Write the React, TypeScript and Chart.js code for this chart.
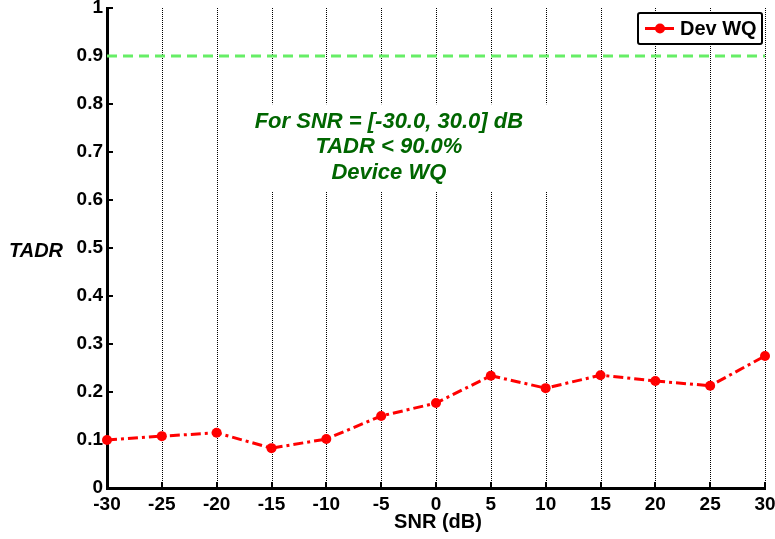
import { useEffect, useRef } from 'react';
import { Chart, registerables } from 'chart.js';

Chart.register(...registerables);

// SNR sweep (dB) and the measured TADR of device WQ at each step
const snrDb = [-30, -25, -20, -15, -10, -5, 0, 5, 10, 15, 20, 25, 30];
const tadrDevWQ = [0.1, 0.108, 0.115, 0.083, 0.102, 0.15, 0.177, 0.234, 0.208, 0.235, 0.223, 0.213, 0.275];

// required detection rate, drawn as a dashed reference line
const thresholdSnr = [-30, 30];
const thresholdTadr = [0.9, 0.9];

const yTickValues = [0, 0.1, 0.2, 0.3, 0.4, 0.5, 0.6, 0.7, 0.8, 0.9, 1];
const seriesLabel = 'Dev WQ';
const xTitle = 'SNR (dB)';
const yTitle = 'TADR';
const noteLines = ['For SNR = [-30.0, 30.0] dB', 'TADR < 90.0%', 'Device WQ'];
const noteAt = { x: -4.3, y: 0.71 };

const FONT = "'Liberation Sans', Arial, Helvetica, sans-serif";
const RED = '#ff0000';
const GREEN_LINE = '#66ee66';
const NOTE_GREEN = '#006600';

const decor = {
  id: 'decor',
  beforeDatasetsDraw(chart: any) {
    const { ctx, chartArea: a, scales } = chart;
    const x = scales.x;
    const y = scales.y;
    ctx.save();

    // dotted vertical grid at each SNR tick
    ctx.strokeStyle = '#000';
    ctx.lineWidth = 1;
    ctx.setLineDash([1, 1]);
    for (const v of snrDb) {
      if (v === snrDb[0]) continue;
      const px = Math.round(x.getPixelForValue(v)) + 0.5;
      ctx.beginPath();
      ctx.moveTo(px, a.top);
      ctx.lineTo(px, a.bottom);
      ctx.stroke();
    }
    ctx.setLineDash([]);

    // inward tick marks
    ctx.lineWidth = 2;
    for (const v of yTickValues) {
      const py = Math.round(y.getPixelForValue(v));
      ctx.beginPath();
      ctx.moveTo(a.left, py);
      ctx.lineTo(a.left + 6, py);
      ctx.stroke();
    }
    for (const v of snrDb) {
      const px = Math.round(x.getPixelForValue(v));
      ctx.beginPath();
      ctx.moveTo(px, a.bottom);
      ctx.lineTo(px, a.bottom - 6);
      ctx.stroke();
    }

    // annotation with opaque background
    const cx = x.getPixelForValue(noteAt.x);
    const cy = y.getPixelForValue(noteAt.y);
    ctx.fillStyle = '#fff';
    ctx.fillRect(cx - 160, cy - 43, 320, 87);
    ctx.fillStyle = NOTE_GREEN;
    ctx.font = `italic bold 22px ${FONT}`;
    ctx.textAlign = 'center';
    ctx.textBaseline = 'middle';
    noteLines.forEach((t, i) => {
      ctx.fillText(t, cx, cy + (i - 1) * 25.5);
    });
    ctx.restore();
  },
  afterDraw(chart: any) {
    const { ctx, chartArea: a, scales } = chart;
    const y = scales.y;
    ctx.save();

    // axis titles
    ctx.fillStyle = '#000';
    ctx.textAlign = 'center';
    ctx.textBaseline = 'middle';
    ctx.font = `bold 20px ${FONT}`;
    ctx.fillText(xTitle, (a.left + a.right) / 2 + 2, a.bottom + 34);
    ctx.font = `italic bold 20px ${FONT}`;
    ctx.fillText(yTitle, a.left - 71, y.getPixelForValue(0.5) + 3);

    // legend box
    const bw = 124;
    const bh = 31;
    const bx = a.right - bw - 3;
    const by = a.top + 5;
    ctx.fillStyle = '#fff';
    ctx.strokeStyle = '#000';
    ctx.lineWidth = 2;
    ctx.beginPath();
    ctx.roundRect(bx, by, bw, bh, 2);
    ctx.fill();
    ctx.stroke();
    const ly = by + bh / 2;
    ctx.strokeStyle = RED;
    ctx.lineWidth = 3;
    ctx.beginPath();
    ctx.moveTo(bx + 7, ly);
    ctx.lineTo(bx + 36, ly);
    ctx.stroke();
    ctx.fillStyle = RED;
    ctx.beginPath();
    ctx.arc(bx + 22, ly, 5, 0, Math.PI * 2);
    ctx.fill();
    ctx.fillStyle = '#000';
    ctx.font = `bold 20px ${FONT}`;
    ctx.textAlign = 'left';
    ctx.fillText(seriesLabel, bx + 42, ly + 1);
    ctx.restore();
  },
};

export default function App() {
  const canvasRef = useRef<HTMLCanvasElement | null>(null);

  useEffect(() => {
    const canvas = canvasRef.current;
    if (!canvas) return;
    const chart = new Chart(canvas, {
      type: 'line',
      data: {
        datasets: [
          {
            label: seriesLabel,
            data: snrDb.map((s, i) => ({ x: s, y: tadrDevWQ[i] })),
            borderColor: RED,
            backgroundColor: RED,
            borderWidth: 3,
            borderDash: [10, 4, 3, 4],
            pointRadius: 5,
            pointBackgroundColor: RED,
            pointBorderColor: RED,
            pointBorderWidth: 0,
            fill: false,
            tension: 0,
            clip: false as any,
          },
          {
            label: 'threshold',
            data: thresholdSnr.map((s, i) => ({ x: s, y: thresholdTadr[i] })),
            borderColor: GREEN_LINE,
            borderWidth: 3,
            borderDash: [10, 6],
            pointRadius: 0,
            fill: false,
            clip: false as any,
          },
        ],
      },
      options: {
        responsive: false,
        animation: false,
        events: [],
        layout: { padding: { top: 8, right: 10, left: 0, bottom: 0 } },
        plugins: {
          legend: { display: false },
          tooltip: { enabled: false },
          title: { display: false },
        },
        scales: {
          x: {
            type: 'linear',
            min: -30,
            max: 30,
            grid: { display: false, drawTicks: false },
            border: { display: true, color: '#000', width: 3 },
            ticks: {
              stepSize: 5,
              autoSkip: false,
              maxRotation: 0,
              padding: 5,
              color: '#000',
              font: { family: FONT, size: 19, weight: 'bold' },
            },
            afterFit: (s: any) => {
              s.height = 51;
              s.paddingLeft = 0;
              s.paddingRight = 0;
            },
          },
          y: {
            type: 'linear',
            min: 0,
            max: 1,
            grid: { display: false, drawTicks: false },
            border: { display: true, color: '#000', width: 3 },
            ticks: {
              stepSize: 0.1,
              autoSkip: false,
              padding: 4,
              color: '#000',
              font: { family: FONT, size: 19, weight: 'bold' },
              callback: (v: any) => String(Number(Number(v).toFixed(1))),
            },
            afterFit: (s: any) => {
              s.width = 107;
              s.paddingTop = 0;
              s.paddingBottom = 0;
            },
          },
        },
      },
      plugins: [decor],
    });
    return () => chart.destroy();
  }, []);

  return (
    <div style={{ position: 'absolute', left: 0, top: 0, width: 775, height: 539, background: '#fff' }}>
      <canvas ref={canvasRef} width={775} height={539} />
    </div>
  );
}
